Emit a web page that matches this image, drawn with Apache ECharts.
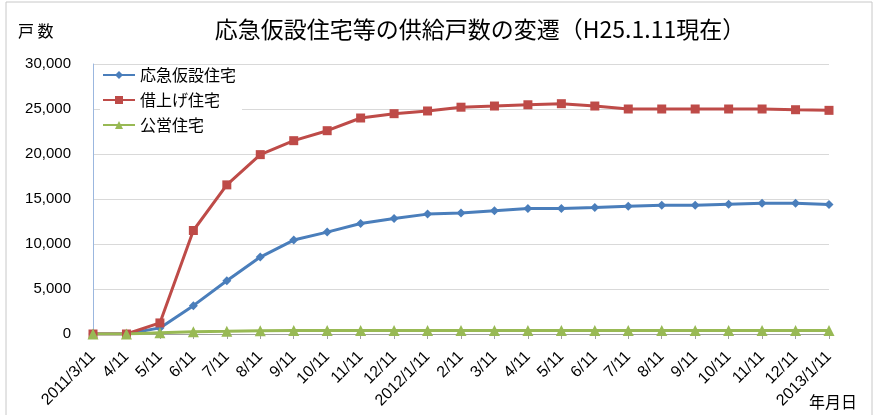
<!DOCTYPE html>
<html>
<head>
<meta charset="utf-8">
<title>応急仮設住宅等の供給戸数の変遷</title>
<script src="https://cdn.jsdelivr.net/npm/echarts@6/dist/echarts.min.js"></script>
<style>
body{margin:0;background:#fff;}
#chart{width:879px;height:415px;}
</style>
</head>
<body>
<div id="chart"></div>
<script>

const months=["2011/3/11","4/11","5/11","6/11","7/11","8/11","9/11","10/11","11/11","12/11",
"2012/1/11","2/11","3/11","4/11","5/11","6/11","7/11","8/11","9/11","10/11","11/11","12/11","2013/1/11"]

const temporary=[0,0,680,3150,5920,8550,10440,11320,12280,12830,13320,13450,13690,13940,13940,14050,14200,14310,14310,14430,14540,14540,14380]

const leased=[0,0,1230,11500,16570,19930,21480,22590,24000,24480,24780,25200,25330,25470,25590,25330,25000,25000,25000,25000,25000,24920,24850]

const publicHousing=[0,0,150,250,300,370,380,380,380,380,380,380,380,380,380,380,380,380,380,380,380,380,380]

const yTicks=[0,5000,10000,15000,20000,25000,30000]

const cjk='"Noto Sans CJK JP","Liberation Sans",sans-serif'

const chart=echarts.init(document.getElementById("chart"))

chart.setOption({
animation:false,
title:{
text:"応急仮設住宅等の供給戸数の変遷（H25.1.11現在）",
left:475,top:13,textAlign:"center",
textStyle:{fontFamily:cjk,fontSize:23,fontWeight:"normal",color:"#000"}
},
graphic:[
{type:"rect",shape:{x:6,y:2,width:866,height:420},style:{fill:"none",stroke:"#c8c8c8",lineWidth:1}},
{type:"text",left:18,top:23,style:{text:"戸 数",font:'16px "Noto Sans CJK JP"',fill:"#000"}},
{type:"text",left:809,top:394,style:{text:"年月日",font:'16px "Noto Sans CJK JP"',fill:"#000"}}
],
legend:{
left:100,top:65,orient:"vertical",itemGap:9,itemWidth:32,itemHeight:10,
backgroundColor:"#fff",padding:[2,6,2,2],
textStyle:{fontFamily:cjk,fontSize:16,color:"#000"},
data:["応急仮設住宅","借上げ住宅","公営住宅"]
},
grid:{left:93,right:50,top:64,bottom:81},
xAxis:{
type:"category",data:months,boundaryGap:false,
axisLine:{lineStyle:{color:"#a0a0a0"}},
axisTick:{show:true,interval:0,length:5,lineStyle:{color:"#a0a0a0"}},
axisLabel:{interval:0,rotate:45,fontSize:16,color:"#000",fontFamily:"Liberation Sans",margin:20}
},
yAxis:{
type:"value",min:0,max:30000,interval:5000,
axisLine:{show:true,lineStyle:{color:"#9bb7df"}},
axisTick:{show:false},
splitLine:{lineStyle:{color:"#d9d9d9"}},
axisLabel:{fontSize:15,color:"#000",fontFamily:"Liberation Sans",margin:22,
formatter:v=>yTicks.includes(v)?v.toLocaleString("en-US"):""}
},
series:[
{name:"応急仮設住宅",type:"line",data:temporary,symbol:"diamond",symbolSize:9,
itemStyle:{color:"#4a7ebb"},lineStyle:{width:3,color:"#4a7ebb"}},
{name:"借上げ住宅",type:"line",data:leased,symbol:"rect",symbolSize:9,
itemStyle:{color:"#be4b48"},lineStyle:{width:3,color:"#be4b48"}},
{name:"公営住宅",type:"line",data:publicHousing,symbol:"triangle",symbolSize:11,
itemStyle:{color:"#98b954"},lineStyle:{width:3,color:"#98b954"}}
]
})

</script>
</body>
</html>
